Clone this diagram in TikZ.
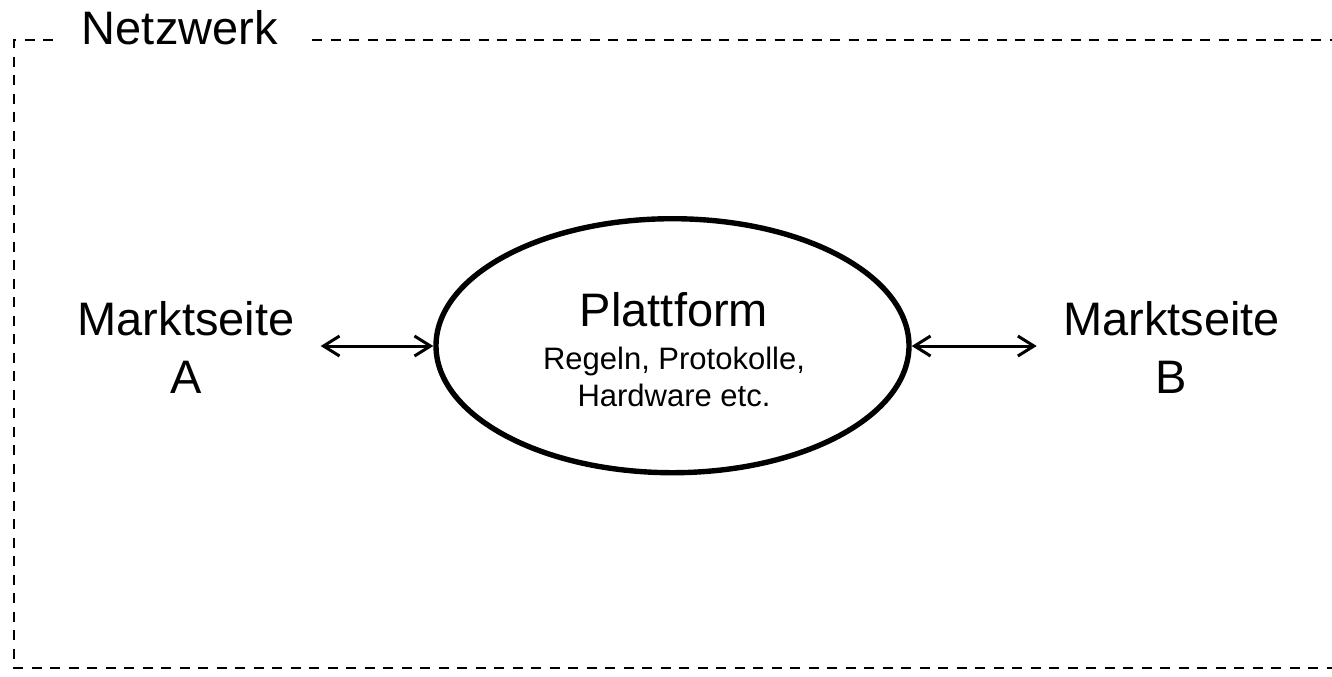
\documentclass[tikz,border=0pt]{standalone}
\usepackage{fontspec}
\setmainfont{Liberation Sans}
\usetikzlibrary{arrows.meta,shapes.geometric}
\begin{document}
\begin{tikzpicture}[x=0.5pt,y=-0.5pt,
  frame/.style={line width=1.35pt,dash pattern=on 5pt off 4.25pt},
  bigtxt/.style={inner sep=0pt,align=center,font=\fontsize{23.5}{29}\selectfont},
  smalltxt/.style={inner sep=0pt,align=center,font=\fontsize{15.5}{18.5}\selectfont},
  arr/.style={line width=1.5pt,{Straight Barb[length=8pt,width=10pt]}-{Straight Barb[length=8pt,width=10pt]}},
  platshape/.style={ellipse,draw,line width=2.7pt,inner sep=0pt,minimum width=236.5pt,minimum height=127pt}
]
\useasboundingbox (0,0) rectangle (1332,676);
% frame
\node[bigtxt,anchor=base west] (net) at (81.5,44) {Netzwerk};
\coordinate (gapL) at (53,40);
\coordinate (gapR) at (312,40);
\coordinate (cTL) at (14,40);
\coordinate (cBL) at (14,668);
\coordinate (cBR) at (1345,668);
\coordinate (cTR) at (1345,40);
\draw[frame] (gapL) -- (cTL) -- (cBL) -- (cBR);
\draw[frame] (gapR) -- (cTR);
% platform
\node[platshape] (plat) at (672.5,345.7) {};
\node[bigtxt,anchor=base] (ptitle) at (674,326.7) {Plattform};
\node[smalltxt,anchor=base] (pdesc) at (674,406) {Regeln, Protokolle,\\Hardware etc.};
% sides
\node[bigtxt,anchor=base] (ma) at (186,393) {Marktseite\\[0pt]A};
\node[bigtxt,anchor=base] (mb) at (1171.5,393) {Marktseite\\[0pt]B};
\coordinate (aL) at (320.7,346);
\coordinate (aR) at (1036.7,346);
\draw[arr] (aL) -- (aL -| plat.west);
\draw[arr] (aR -| plat.east) -- (aR);
\end{tikzpicture}
\end{document}
